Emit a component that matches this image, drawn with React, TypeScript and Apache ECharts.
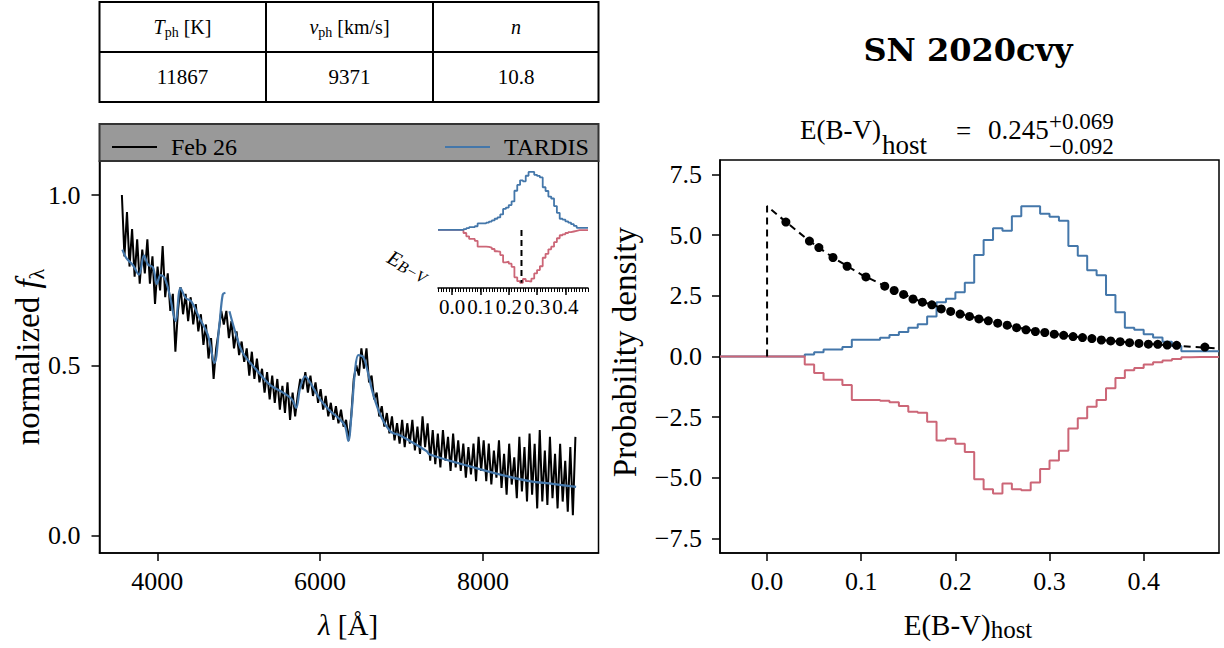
import { useEffect, useRef } from "react";
import * as echarts from "echarts";

const FONT = '"Liberation Serif", "DejaVu Serif", serif';
const BOLD_FONT = '"DejaVu Serif", serif';
const BLUE = "#4477AA";
const RED = "#CC6677";

// ---------- left panel: observed spectrum (uniform sampling) ----------
const waveStart = 3565;
const waveStep = 31.3;
const observedFlux = [
  1.0, 0.82, 0.95, 0.79, 0.9, 0.76, 0.87, 0.74, 0.84, 0.77,
  0.87, 0.74, 0.82, 0.68, 0.79, 0.72, 0.85, 0.7, 0.77, 0.66,
  0.71, 0.54, 0.66, 0.73, 0.65, 0.71, 0.63, 0.7, 0.62, 0.68,
  0.6, 0.65, 0.56, 0.62, 0.52, 0.58, 0.46, 0.55, 0.6, 0.66,
  0.62, 0.66, 0.58, 0.63, 0.55, 0.6, 0.53, 0.57, 0.51, 0.55,
  0.47, 0.54, 0.46, 0.52, 0.45, 0.49, 0.42, 0.48, 0.4, 0.47,
  0.39, 0.46, 0.37, 0.44, 0.36, 0.45, 0.34, 0.42, 0.35, 0.41,
  0.46, 0.43, 0.48, 0.42, 0.47, 0.41, 0.45, 0.39, 0.43, 0.37,
  0.41, 0.35, 0.39, 0.34, 0.38, 0.33, 0.37, 0.32, 0.34, 0.28,
  0.35, 0.46, 0.5, 0.47, 0.55, 0.49, 0.55, 0.45, 0.47, 0.4,
  0.42, 0.35, 0.38, 0.32, 0.36, 0.3, 0.35, 0.28, 0.33, 0.27,
  0.34, 0.26, 0.33, 0.27, 0.34, 0.25, 0.32, 0.24, 0.35, 0.26,
  0.33, 0.22, 0.31, 0.21, 0.3, 0.2, 0.31, 0.22, 0.29, 0.19,
  0.3, 0.2, 0.28, 0.19, 0.27, 0.17, 0.26, 0.18, 0.27, 0.16,
  0.29, 0.19, 0.28, 0.16, 0.27, 0.15, 0.25, 0.17, 0.28, 0.14,
  0.24, 0.12, 0.27, 0.15, 0.23, 0.11, 0.29, 0.13, 0.26, 0.1,
  0.3, 0.12, 0.27, 0.08, 0.31, 0.1, 0.25, 0.09, 0.29, 0.11,
  0.24, 0.08, 0.27, 0.1, 0.22, 0.07, 0.26, 0.06, 0.29,
];

// TARDIS model
const tardisWave = [
  3571, 3620, 3701, 3775, 3836, 3885, 3946, 3995, 4040, 4089,
  4151, 4224, 4285, 4347, 4417, 4518, 4620, 4702, 4763, 4804,
  4837, 4862, 4886, 4968, 5049, 5213, 5388, 5551, 5654, 5706,
  5755, 5817, 5878, 6000, 6123, 6245, 6306, 6347, 6389, 6429,
  6470, 6531, 6573, 6653, 6756, 6858, 6919, 6960, 7103, 7308,
  7348, 7756, 8165, 8573, 8858, 9145,
];
const tardisFlux = [
  0.84, 0.815, 0.794, 0.766, 0.823, 0.796, 0.788, 0.739, 0.765, 0.757,
  0.708, 0.63, 0.727, 0.698, 0.688, 0.639, 0.59, 0.507, 0.62, 0.708,
  0.713, null, 0.659, 0.59, 0.537, 0.488, 0.442, 0.419, 0.4, 0.375,
  0.434, 0.468, 0.449, 0.4, 0.366, 0.341, 0.322, 0.278, 0.366, 0.483,
  0.53, 0.524, 0.493, 0.414, 0.346, 0.307, 0.299, 0.297, 0.278, 0.248,
  0.238, 0.209, 0.182, 0.16, 0.152, 0.143,
];

// ---------- right panel: E(B-V) posterior histogram ----------
const binEdges = [
  -0.05, 0.04, 0.05, 0.06, 0.07, 0.08, 0.09, 0.1, 0.11, 0.12, 0.13,
  0.14, 0.15, 0.16, 0.17, 0.18, 0.19, 0.2, 0.21, 0.22, 0.23,
  0.24, 0.25, 0.26, 0.27, 0.28, 0.29, 0.3, 0.31, 0.32, 0.33,
  0.34, 0.35, 0.36, 0.37, 0.38, 0.39, 0.4, 0.41, 0.42, 0.43,
  0.44, 0.45, 0.46, 0.47, 0.48,
];
const posteriorDensity = [
  0, 0.08, 0.18, 0.29, 0.29, 0.39, 0.69, 0.69, 0.69, 0.77, 0.89,
  1.01, 1.19, 1.33, 1.65, 2.24, 2.38, 2.65, 3.04, 4.18, 4.8,
  5.29, 5.18, 5.78, 6.19, 6.19, 5.88, 5.76, 5.6, 4.55, 4.15,
  3.56, 3.35, 2.54, 1.82, 1.19, 1.1, 0.92, 0.78, 0.61, 0.43,
  0.22, 0.22, 0.22, 0.22,
];
const mirroredDensity = [
  0, -0.33, -0.68, -0.96, -0.96, -1.17, -1.79, -1.79, -1.79, -1.82, -1.89,
  -2.04, -2.28, -2.32, -2.69, -3.46, -3.39, -3.6, -3.94, -5.06, -5.47,
  -5.65, -5.24, -5.47, -5.51, -5.19, -4.64, -4.29, -3.88, -2.97, -2.55,
  -2.07, -1.79, -1.31, -0.89, -0.57, -0.47, -0.33, -0.24, -0.17, -0.1,
  -0.03, -0.02, -0.02, -0.02,
];

// prior (dots + dashed curve)
const priorDotX = [
  0.02, 0.045, 0.055, 0.07, 0.085, 0.105, 0.125, 0.135, 0.145, 0.155,
  0.165, 0.175, 0.185, 0.195, 0.205, 0.215, 0.225, 0.235, 0.245, 0.255,
  0.265, 0.275, 0.285, 0.295, 0.305, 0.315, 0.325, 0.335, 0.345, 0.355,
  0.365, 0.375, 0.385, 0.395, 0.405, 0.415, 0.425, 0.435, 0.465,
];
const priorDotY = [
  5.54, 4.76, 4.49, 4.08, 3.72, 3.28, 2.9, 2.72, 2.56, 2.37,
  2.24, 2.13, 1.96, 1.86, 1.75, 1.65, 1.55, 1.47, 1.375, 1.29,
  1.19, 1.1, 1.03, 0.99, 0.92, 0.875, 0.82, 0.78, 0.74, 0.68,
  0.64, 0.61, 0.57, 0.54, 0.51, 0.5, 0.47, 0.46, 0.39,
];
const priorCurveX = [0, 0, 0.02, 0.045, 0.07, 0.1, 0.13, 0.16, 0.2, 0.24, 0.28, 0.32, 0.36, 0.4, 0.44, 0.48];
const priorCurveY = [0, 6.2, 5.55, 4.76, 4.08, 3.38, 2.82, 2.32, 1.82, 1.42, 1.08, 0.85, 0.66, 0.53, 0.43, 0.33];

const bestFit = 0.245;
const bestFitDepth = -5.65;
const errPlus = "+0.069";
const errMinus = "\u22120.092";

// table
const tableValues = ["11867", "9371", "10.8"];

// ticks
const specWaveTicks = [4000, 6000, 8000];
const specFluxTicks = [0, 0.5, 1.0];
const ebvTicks = [0, 0.1, 0.2, 0.3, 0.4];
const densityTicks = [-7.5, -5, -2.5, 0, 2.5, 5, 7.5];

const minus = (s: string) => s.replace("-", "\u2212");

function stepData(vals: number[]) {
  const d: number[][] = vals.map((v, i) => [binEdges[i], v]);
  d.push([binEdges[binEdges.length - 1], vals[vals.length - 1]]);
  return d;
}

export default function App() {
  const ref = useRef<HTMLDivElement>(null);

  useEffect(() => {
    if (!ref.current) return;
    const chart = echarts.init(ref.current, null, { renderer: "svg" });

    const observedData = observedFlux.map((f, i) => [waveStart + i * waveStep, f]);
    const tardisData = tardisWave.map((w, i) => [w, tardisFlux[i]]);
    const priorCurve = priorCurveX.map((x, i) => [x, priorCurveY[i]]);
    const priorDots = priorDotX.map((x, i) => [x, priorDotY[i]]);

    const tick = { color: "#000", fontFamily: FONT, fontSize: 26, showMinLabel: true, showMaxLabel: true };
    const axLine = { show: true, onZero: false, lineStyle: { color: "#000", width: 1.5 } };
    const axTick = (vals: number[], len = 8) => ({
      show: true,
      length: len,
      customValues: vals,
      lineStyle: { color: "#000", width: 1.5 },
    });

    const txt = (x: number, y: number, text: string, extra: any = {}) => ({
      type: "text",
      x,
      y,
      z: 10,
      style: {
        text,
        fill: "#000",
        fontFamily: FONT,
        fontSize: 26,
        align: "left",
        verticalAlign: "middle",
        ...extra,
      },
    });

    const tableRich = {
      r: { fontFamily: FONT, fontSize: 20, lineHeight: 24, fill: "#000" },
      i: { fontFamily: FONT, fontSize: 20, lineHeight: 24, fontStyle: "italic", fill: "#000" },
      s: { fontFamily: FONT, fontSize: 14, lineHeight: 9, verticalAlign: "bottom", fill: "#000" },
    };

    const colCenters = [182.5, 349.5, 516];

    const graphic: any[] = [
      // table
      {
        type: "rect",
        z: 1,
        shape: { x: 99.5, y: 2, width: 499, height: 100 },
        style: { fill: "#fff", stroke: "#000", lineWidth: 2 },
      },
      { type: "line", z: 1, shape: { x1: 99.5, y1: 52, x2: 598.5, y2: 52 }, style: { stroke: "#000", lineWidth: 2 } },
      { type: "line", z: 1, shape: { x1: 266, y1: 2, x2: 266, y2: 102 }, style: { stroke: "#000", lineWidth: 2 } },
      { type: "line", z: 1, shape: { x1: 433, y1: 2, x2: 433, y2: 102 }, style: { stroke: "#000", lineWidth: 2 } },
      txt(colCenters[0], 27, "{i|T}{s|ph}{r| [K]}", { align: "center", rich: tableRich }),
      txt(colCenters[1], 27, "{i|v}{s|ph}{r| [km/s]}", { align: "center", rich: tableRich }),
      txt(colCenters[2], 27, "{i|n}", { align: "center", rich: tableRich }),
      ...tableValues.map((v, k) => txt(colCenters[k], 77, v, { align: "center", fontSize: 21 })),
      // legend bar
      {
        type: "rect",
        z: 1,
        shape: { x: 99.5, y: 124, width: 499, height: 37 },
        style: { fill: "#999999", stroke: "#333", lineWidth: 2 },
      },
      // left axis titles
      {
        type: "text",
        x: 28,
        y: 357,
        rotation: Math.PI / 2,
        z: 10,
        style: {
          text: "{r|normalized }{i|f}{s|\u03bb}",
          align: "center",
          verticalAlign: "middle",
          rich: {
            r: { fontFamily: FONT, fontSize: 33, lineHeight: 38, fill: "#000" },
            i: { fontFamily: FONT, fontSize: 33, lineHeight: 38, fontStyle: "italic", fill: "#000" },
            s: { fontFamily: FONT, fontSize: 22, lineHeight: 16, verticalAlign: "bottom", fill: "#000" },
          },
        },
      },
      txt(348, 625, "{i|\u03bb}{r| [\u00c5]}", {
        align: "center",
        rich: {
          r: { fontFamily: FONT, fontSize: 29, lineHeight: 34, fill: "#000" },
          i: { fontFamily: FONT, fontSize: 29, lineHeight: 34, fontStyle: "italic", fill: "#000" },
        },
      }),
      // inset axis label
      {
        type: "text",
        x: 408,
        y: 266,
        rotation: -0.5,
        z: 10,
        style: {
          text: "{i|E}{s|B\u2212V}",
          align: "center",
          verticalAlign: "middle",
          rich: {
            i: { fontFamily: FONT, fontSize: 21, lineHeight: 22, fontStyle: "italic", fill: "#000" },
            s: { fontFamily: FONT, fontSize: 16, lineHeight: 10, fontStyle: "italic", verticalAlign: "bottom", fill: "#000" },
          },
        },
      },
      // right panel titles
      txt(968, 50, "SN 2020cvy", { align: "center", fontFamily: BOLD_FONT, fontWeight: "bold", fontSize: 32 }),
      txt(800, 130, "E(B-V)", { fontSize: 27 }),
      txt(882, 145, "host", { fontSize: 27 }),
      txt(956, 131, "=", { fontSize: 27 }),
      txt(988, 130, "0.245", { fontSize: 27 }),
      txt(1049, 121, errPlus, { fontSize: 23 }),
      txt(1049, 146, errMinus, { fontSize: 23 }),
      {
        type: "text",
        x: 625,
        y: 352,
        rotation: Math.PI / 2,
        z: 10,
        style: {
          text: "Probability density",
          fill: "#000",
          fontFamily: FONT,
          fontSize: 33,
          align: "center",
          verticalAlign: "middle",
        },
      },
      txt(968, 625, "{r|E(B-V)}{s|host}", {
        align: "center",
        rich: {
          r: { fontFamily: FONT, fontSize: 29, lineHeight: 34, fill: "#000" },
          s: { fontFamily: FONT, fontSize: 25, lineHeight: 16, verticalAlign: "bottom", fill: "#000" },
        },
      }),
    ];

    const legendBase = {
      orient: "horizontal",
      top: 130,
      icon: "rect",
      itemWidth: 45,
      itemHeight: 2,
      selectedMode: false,
      textStyle: { fontFamily: FONT, fontSize: 24, color: "#000", padding: [0, 0, 0, 9] },
    };

    const option: any = {
      animation: false,
      backgroundColor: "#fff",
      textStyle: { fontFamily: FONT },
      graphic,
      legend: [
        { ...legendBase, data: ["Feb 26"], left: 107 },
        { ...legendBase, data: ["TARDIS"], left: 440 },
      ],
      grid: [
        { left: 99.5, top: 161, width: 499, height: 392, show: true, borderColor: "#000", borderWidth: 1.5, backgroundColor: "transparent" },
        { left: 438, top: 169, width: 150, height: 119, show: false },
        { left: 720, top: 160, width: 499, height: 393, show: true, borderColor: "#000", borderWidth: 1.5, backgroundColor: "transparent" },
      ],
      xAxis: [
        {
          type: "value",
          gridIndex: 0,
          position: "bottom",
          min: 3290,
          max: 9420,
          axisLine: axLine,
          axisTick: axTick(specWaveTicks),
          axisLabel: { ...tick, margin: 15, customValues: specWaveTicks, formatter: (v: number) => String(v) },
          splitLine: { show: false },
        },
        {
          type: "value",
          gridIndex: 1,
          position: "bottom",
          min: -0.05,
          max: 0.48,
          interval: 0.01,
          axisLine: axLine,
          axisTick: { show: true, length: 4, lineStyle: { color: "#000", width: 1 } },
          axisLabel: { show: false },
          splitLine: { show: false },
        },
        {
          type: "value",
          gridIndex: 2,
          position: "bottom",
          min: -0.05,
          max: 0.48,
          axisLine: axLine,
          axisTick: axTick(ebvTicks),
          axisLabel: { ...tick, margin: 15, customValues: ebvTicks, formatter: (v: number) => v.toFixed(1) },
          splitLine: { show: false },
        },
        {
          type: "value",
          gridIndex: 1,
          position: "bottom",
          min: -0.05,
          max: 0.48,
          axisLine: { show: false, onZero: false },
          axisTick: axTick(ebvTicks, 7),
          axisLabel: {
            ...tick,
            fontSize: 21,
            margin: 8,
            interval: 0,
            hideOverlap: false,
            customValues: ebvTicks,
            formatter: (v: number) => v.toFixed(1),
          },
          splitLine: { show: false },
        },
      ],
      yAxis: [
        {
          type: "value",
          gridIndex: 0,
          position: "left",
          min: -0.051,
          max: 1.1,
          axisLine: axLine,
          axisTick: axTick(specFluxTicks),
          axisLabel: { ...tick, margin: 19, customValues: specFluxTicks, formatter: (v: number) => v.toFixed(1) },
          splitLine: { show: false },
        },
        { type: "value", gridIndex: 1, min: -6.2, max: 6.5, show: false, axisLine: { onZero: false } },
        {
          type: "value",
          gridIndex: 2,
          position: "left",
          min: -8.1,
          max: 8.1,
          axisLine: axLine,
          axisTick: axTick(densityTicks),
          axisLabel: { ...tick, margin: 18, customValues: densityTicks, formatter: (v: number) => minus(v.toFixed(1)) },
          splitLine: { show: false },
        },
      ],
      series: [
        {
          name: "Feb 26",
          type: "line",
          xAxisIndex: 0,
          yAxisIndex: 0,
          data: observedData,
          symbol: "none",
          lineStyle: { color: "#000", width: 2 },
          itemStyle: { color: "#000" },
          z: 2,
        },
        {
          name: "TARDIS",
          type: "line",
          xAxisIndex: 0,
          yAxisIndex: 0,
          data: tardisData,
          symbol: "none",
          smooth: 0.35,
          connectNulls: false,
          lineStyle: { color: BLUE, width: 2.2 },
          itemStyle: { color: BLUE },
          z: 3,
        },
        {
          name: "inset mirrored",
          type: "line",
          xAxisIndex: 1,
          yAxisIndex: 1,
          step: "end",
          data: stepData(mirroredDensity),
          symbol: "none",
          lineStyle: { color: RED, width: 1.8 },
          z: 3,
        },
        {
          name: "inset posterior",
          type: "line",
          xAxisIndex: 1,
          yAxisIndex: 1,
          step: "end",
          data: stepData(posteriorDensity),
          symbol: "none",
          lineStyle: { color: BLUE, width: 1.8 },
          z: 4,
        },
        {
          name: "inset best",
          type: "line",
          xAxisIndex: 1,
          yAxisIndex: 1,
          data: [
            [bestFit, 0],
            [bestFit, bestFitDepth],
          ],
          symbol: "none",
          lineStyle: { color: "#000", width: 2, type: [6, 4] },
          z: 5,
        },
        {
          name: "posterior",
          type: "line",
          xAxisIndex: 2,
          yAxisIndex: 2,
          step: "end",
          data: stepData(posteriorDensity),
          symbol: "none",
          lineStyle: { color: BLUE, width: 2 },
          z: 3,
        },
        {
          name: "mirrored",
          type: "line",
          xAxisIndex: 2,
          yAxisIndex: 2,
          step: "end",
          data: stepData(mirroredDensity),
          symbol: "none",
          lineStyle: { color: RED, width: 2 },
          z: 4,
        },
        {
          name: "prior",
          type: "line",
          xAxisIndex: 2,
          yAxisIndex: 2,
          data: priorCurve,
          symbol: "none",
          lineStyle: { color: "#000", width: 2, type: [7, 5] },
          z: 5,
        },
        {
          name: "prior samples",
          type: "scatter",
          xAxisIndex: 2,
          yAxisIndex: 2,
          data: priorDots,
          symbolSize: 9,
          itemStyle: { color: "#000", opacity: 1 },
          z: 6,
        },
      ],
    };

    chart.setOption(option);
    return () => chart.dispose();
  }, []);

  return (
    <div
      ref={ref}
      style={{ position: "absolute", left: 0, top: 0, width: 1224, height: 648, background: "#fff" }}
    />
  );
}
